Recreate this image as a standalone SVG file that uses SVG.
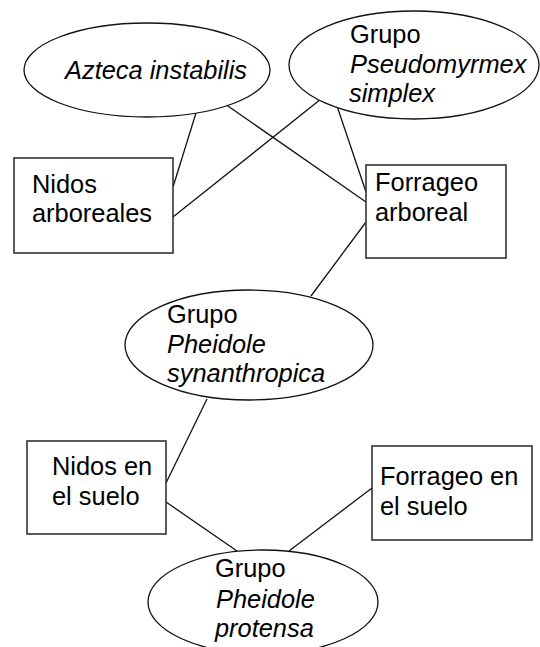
<svg xmlns="http://www.w3.org/2000/svg" width="540" height="647" viewBox="0 0 540 647">
<style>
.bg{fill:#ffffff}
.shape{fill:#ffffff;stroke:#111111;stroke-width:1.3}
.box{fill:#ffffff;stroke:#333333;stroke-width:1.6}
.conn line{stroke:#111111;stroke-width:1.3}
text{font-family:"Liberation Sans",Arial,Helvetica,sans-serif;font-size:25.4px;fill:#000000}
.it{font-style:italic}
</style>
<rect class="bg" x="0" y="0" width="540" height="647"/>
<g id="connectors" class="conn">
<line x1="196" y1="113" x2="173" y2="187"/>
<line x1="225" y1="104" x2="366" y2="202"/>
<line x1="321" y1="99" x2="173" y2="217"/>
<line x1="337" y1="106" x2="366" y2="192"/>
<line x1="366" y1="222" x2="311" y2="296"/>
<line x1="207" y1="399" x2="166" y2="483"/>
<line x1="166" y1="502" x2="237" y2="551"/>
<line x1="372" y1="488" x2="289" y2="551"/>
</g>
<g id="azteca">
<ellipse class="shape" cx="147" cy="70" rx="123" ry="47"/>
<text class="it" x="65" y="79">Azteca instabilis</text>
</g>
<g id="pseudomyrmex">
<ellipse class="shape" cx="414" cy="65" rx="125" ry="54"/>
<text x="350" y="43">Grupo</text>
<text class="it" x="350" y="73">Pseudomyrmex</text>
<text class="it" x="349" y="102">simplex</text>
</g>
<g id="nidos-arboreales">
<rect class="box" x="14" y="158" width="159" height="95"/>
<text x="32" y="193">Nidos</text>
<text x="32" y="222">arboreales</text>
</g>
<g id="forrageo-arboreal">
<rect class="box" x="366" y="165" width="140" height="93"/>
<text x="375" y="191">Forrageo</text>
<text x="375" y="221">arboreal</text>
</g>
<g id="synanthropica">
<ellipse class="shape" cx="249" cy="345" rx="124" ry="55"/>
<text x="167" y="323">Grupo</text>
<text class="it" x="167" y="353">Pheidole</text>
<text class="it" x="167" y="382">synanthropica</text>
</g>
<g id="nidos-suelo">
<rect class="box" x="27" y="441" width="139" height="93"/>
<text x="52" y="475">Nidos en</text>
<text x="52" y="505">el suelo</text>
</g>
<g id="forrageo-suelo">
<rect class="box" x="372" y="446" width="160" height="94"/>
<text x="380" y="485">Forrageo en</text>
<text x="380" y="515">el suelo</text>
</g>
<g id="protensa">
<ellipse class="shape" cx="263" cy="602" rx="115" ry="52"/>
<text x="215" y="577">Grupo</text>
<text class="it" x="216" y="608">Pheidole</text>
<text class="it" x="215" y="637">protensa</text>
</g>
</svg>
